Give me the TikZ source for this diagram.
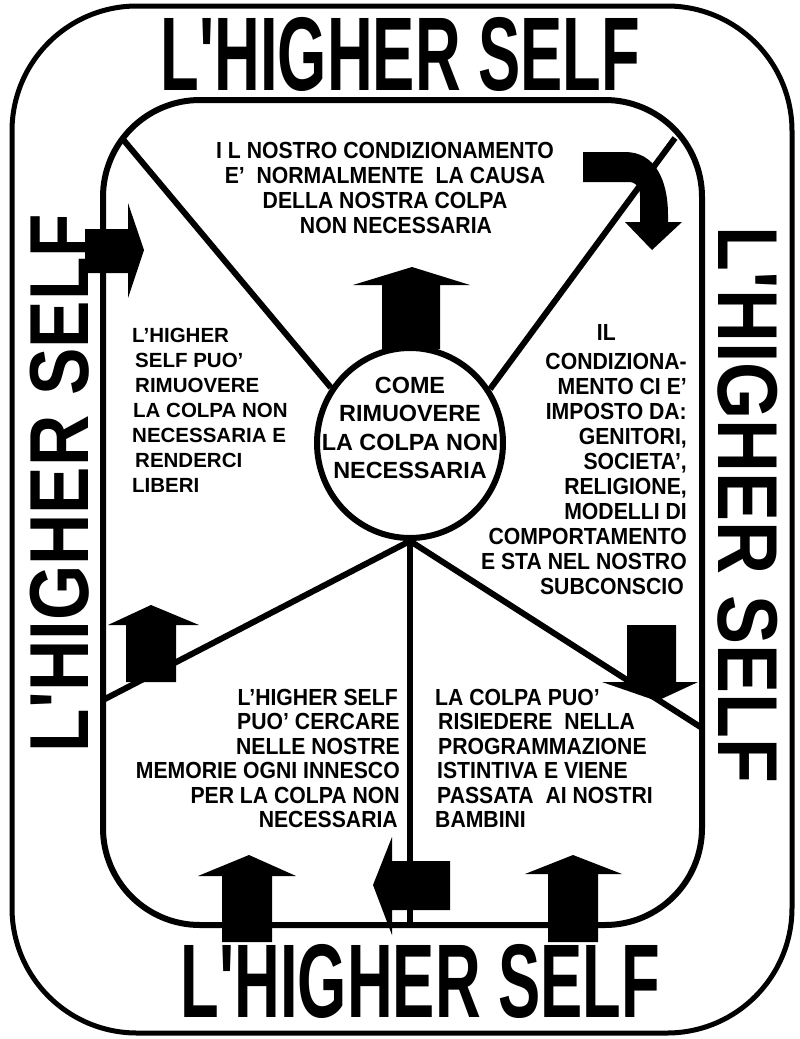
\documentclass[tikz,border=0pt]{standalone}
\usepackage{graphicx}
\usepackage{fontspec}
\setmainfont{Liberation Sans}
\newfontfamily\condsans{Liberation Sans}[FakeStretch=0.91]
\newfontfamily\titlesans{Liberation Sans}[Ligatures=TeXOff]
\usetikzlibrary{shapes.geometric}

\tikzset{
  frameline/.style={line width=5pt, rounded corners=125pt},
  panelline/.style={line width=6pt, rounded corners=97pt},
  spoke/.style={line width=6pt},
  hub/.style={ellipse, draw, line width=6pt, fill=white,
    minimum width=186pt, minimum height=190pt, inner sep=0pt},
  blockarrow/.style={fill=black, draw=none},
  titlebig/.style={inner sep=0pt, font=\titlesans\bfseries\fontsize{100}{100}\selectfont},
  titleside/.style={inner sep=0pt, font=\titlesans\bfseries\fontsize{85}{85}\selectfont},
  condtext/.style={inner sep=0pt, font=\condsans\bfseries\fontsize{23.3}{25}\selectfont},
  condlow/.style={inner sep=0pt, font=\condsans\bfseries\fontsize{23.3}{24.5}\selectfont},
  plaintext/.style={inner sep=0pt, font=\bfseries\fontsize{20.5}{25}\selectfont},
  hubtext/.style={inner sep=0pt, font=\bfseries\fontsize{23.4}{28.5}\selectfont},
}

\begin{document}
\begin{tikzpicture}[x=1pt, y=-1pt]
  \useasboundingbox (0,0) rectangle (800,1039);
  \fill[white] (0,0) rectangle (800,1039);

  % frames
  \draw[frameline] (12,6) rectangle (792,1033);
  \draw[panelline] (103,100) rectangle (702,925);

  % hub and spoke end points
  \coordinate (ul) at (121,137);
  \coordinate (ur) at (675,138);
  \coordinate (ll) at (103,700);
  \coordinate (lr) at (702,728);
  \coordinate (bot) at (410,925);
  \node[hub] (hub) at (410,443) {};

  \draw[spoke] (hub.145) -- (ul);
  \draw[spoke] (hub.34) -- (ur);
  \draw[spoke] (hub.south) -- (ll);
  \draw[spoke] (hub.south) -- (bot);
  \draw[spoke] (hub.south) -- (lr);

  % block arrows
  \fill[blockarrow] (412,267) -- (470,285) -- (440,285) -- (440,349) -- (382,349) -- (382,285) -- (353,285) -- cycle;
  \fill[blockarrow] (583,152) -- (625,152) .. controls (655,152) and (668,180) .. (668,215)
     -- (668,222) -- (682,222) -- (652,250) -- (625,222) -- (640,222) -- (640,196)
     .. controls (640,186) and (636,182) .. (628,182) -- (583,182) -- cycle;
  \fill[blockarrow] (144,250) -- (128,298) -- (128,273) -- (85,273) -- (85,229) -- (128,229) -- (128,203) -- cycle;
  \fill[blockarrow] (151,605) -- (199,625) -- (176,625) -- (176,682) -- (126,682) -- (126,625) -- (108,625) -- cycle;
  \fill[blockarrow] (249,855) -- (296,876) -- (272,876) -- (272,942) -- (222,942) -- (222,876) -- (198,876) -- cycle;
  \fill[blockarrow] (573,855) -- (622,874) -- (598,874) -- (598,942) -- (548,942) -- (548,874) -- (525,874) -- cycle;
  \fill[blockarrow] (373,885) -- (392,837) -- (392,861) -- (450,861) -- (450,910) -- (392,910) -- (392,935) -- cycle;
  \fill[blockarrow] (657,701) -- (602,682) -- (627,682) -- (627,625) -- (676,625) -- (676,682) -- (698,682) -- cycle;

  % texts
  \node[hubtext, align=center, anchor=north] (hubtxt) at (410,376.6)
    {COME\\RIMUOVERE\\LA COLPA NON\\NECESSARIA};
  \node[condtext, align=center, anchor=north] (toptxt) at (385,141.7)
    {I L NOSTRO CONDIZIONAMENTO\\E’~~NORMALMENTE~~LA CAUSA\\DELLA NOSTRA COLPA\\\hspace*{22pt}NON NECESSARIA};
  \node[plaintext, align=left, anchor=north west] (lefttxt) at (132,327.7)
    {L’HIGHER\\\hspace*{3pt}SELF PUO’\\\hspace*{3pt}RIMUOVERE\\\hspace*{1pt}LA COLPA NON\\NECESSARIA E\\\hspace*{3pt}RENDERCI\\LIBERI};
  \node[condtext, align=right, anchor=north east] (righttxt) at (687,324.7)
    {IL\hspace*{71pt}\\[4pt]CONDIZIONA-\\MENTO CI E’\hspace*{9pt}\\IMPOSTO DA:\hspace*{4pt}\\GENITORI,\\SOCIETA’,\hspace*{2pt}\\RELIGIONE,\\MODELLI DI\hspace*{8pt}\\COMPORTAMENTO\\E STA NEL NOSTRO\\SUBCONSCIO\hspace*{3pt}};
  \node[condlow, align=right, anchor=north east] (lowlefttxt) at (400,688.7)
    {L’HIGHER SELF\hspace*{2pt}\\PUO’ CERCARE\hspace*{4pt}\\NELLE NOSTRE\hspace*{5pt}\\MEMORIE OGNI INNESCO\\PER LA COLPA NON\\NECESSARIA\hspace*{2pt}};
  \node[condlow, align=left, anchor=north west] (lowrighttxt) at (435,688.7)
    {LA COLPA PUO’\\\hspace*{3pt}RISIEDERE~~NELLA\\\hspace*{3pt}PROGRAMMAZIONE\\\hspace*{2pt}ISTINTIVA E VIENE\\\hspace*{2pt}PASSATA~~AI NOSTRI\\BAMBINI};

  % titles
  \node[titlebig, anchor=base] (ttop) at (400.5,90) {\scalebox{0.633}[1.047]{L'HIGHER SELF}};
  \node[titlebig, anchor=base] (tbottom) at (420.5,1017) {\scalebox{0.633}[1.047]{L'HIGHER SELF}};
  \node[titleside, rotate=90, anchor=base] (tleft) at (88,483) {\scalebox{0.836}[0.985]{L'HIGHER SELF}};
  \node[titleside, rotate=-90, anchor=base] (tright) at (718,505) {\scalebox{0.864}[1.0]{L'HIGHER SELF}};
\end{tikzpicture}
\end{document}
